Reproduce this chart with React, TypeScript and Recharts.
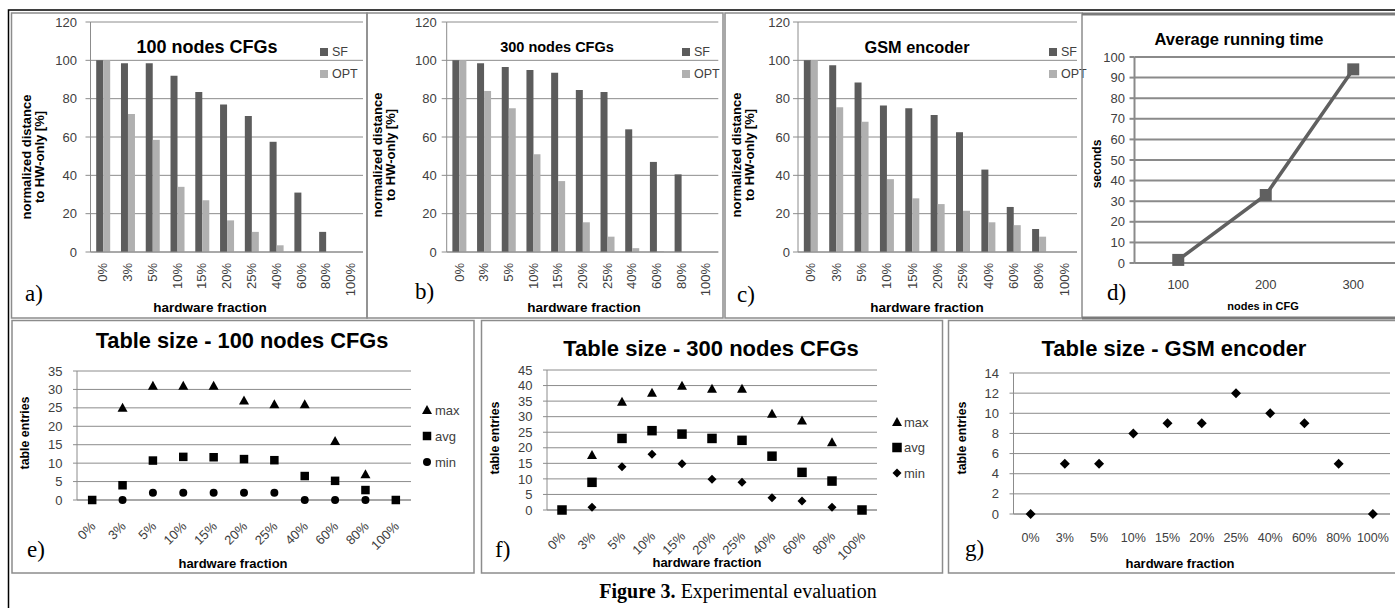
import React from 'react';
import {
  BarChart, Bar, LineChart, Line, ComposedChart, Scatter,
  XAxis, YAxis, CartesianGrid, Legend,
} from 'recharts';

const SANS = '"Liberation Sans", Arial, Helvetica, sans-serif';
const SERIF = '"Liberation Serif", "Times New Roman", Times, serif';
const TICK = '#404040';
const GRID = '#8c8c8c';
const SF_COLOR = '#5c5c5c';
const OPT_COLOR = '#b0b0b0';
const LINE_COLOR = '#606060';

// ---------- data ----------
const fractions = ['0%', '3%', '5%', '10%', '15%', '20%', '25%', '40%', '60%', '80%', '100%'];

const sf100 = [100, 98.5, 98.5, 92, 83.5, 77, 71, 57.5, 31, 10.5, 0];
const opt100 = [100, 72, 58.5, 34, 27, 16.5, 10.5, 3.5, 0, 0, 0];
const sf300 = [100, 98.5, 96.5, 95, 93.5, 84.5, 83.5, 64, 47, 40.5, 0];
const opt300 = [100, 84, 75, 51, 37, 15.5, 8, 2, 0.5, 0, 0];
const sfGsm = [100, 97.5, 88.5, 76.5, 75, 71.5, 62.5, 43, 23.5, 12, 0];
const optGsm = [100, 75.5, 68, 38, 28, 25, 21.5, 15.5, 14, 8, 0];

const cfgSizes = ['100', '200', '300'];
const runTimes = [1.5, 33, 94];

const max100 = [null, 25, 31, 31, 31, 27, 26, 26, 16, 7, null];
const avg100 = [0, 4, 10.7, 11.7, 11.6, 11.1, 10.8, 6.5, 5.2, 2.7, 0];
const min100 = [null, 0, 2, 2, 2, 2, 2, 0, 0, 0, null];

const max300 = [null, 17.7, 34.8, 37.7, 39.9, 39, 39, 30.9, 28.8, 21.8, null];
const avg300 = [0, 8.9, 23, 25.5, 24.4, 23, 22.4, 17.3, 12.1, 9.3, 0];
const min300 = [null, 0.9, 13.9, 17.9, 14.9, 9.9, 8.9, 3.9, 2.9, 0.9, null];

const tableGsm = [0, 5, 5, 8, 9, 9, 12, 10, 9, 5, 0];

const distTicks = [0, 20, 40, 60, 80, 100, 120];
const timeTicks = [0, 10, 20, 30, 40, 50, 60, 70, 80, 90, 100];
const ticks35 = [0, 5, 10, 15, 20, 25, 30, 35];
const ticks45 = [0, 5, 10, 15, 20, 25, 30, 35, 40, 45];
const ticks14 = [0, 2, 4, 6, 8, 10, 12, 14];

// ---------- helpers ----------
function Marker({ kind, cx, cy, size, color }: { kind: string; cx: number; cy: number; size: number; color: string }) {
  const s = size / 2;
  if (kind === 'triangle')
    return <path d={`M${cx},${cy - s} L${cx + s},${cy + s * 0.8} L${cx - s},${cy + s * 0.8} Z`} fill={color} />;
  if (kind === 'square') return <rect x={cx - s} y={cy - s} width={size} height={size} fill={color} />;
  if (kind === 'circle') return <circle cx={cx} cy={cy} r={s} fill={color} />;
  return <path d={`M${cx},${cy - s} L${cx + s},${cy} L${cx},${cy + s} L${cx - s},${cy} Z`} fill={color} />;
}

type LegendItem = { label: string; kind: string; color: string; size: number };

function makeLegend(items: LegendItem[], spacing: number, textDx: number, fontSize: number) {
  return () => (
    <svg width={70} height={spacing * items.length + 10} style={{ display: 'block', overflow: 'visible' }}>
      {items.map((it, i) => (
        <g key={it.label}>
          <Marker kind={it.kind} cx={6} cy={8 + i * spacing} size={it.size} color={it.color} />
          <text x={6 + textDx} y={8 + i * spacing} dominantBaseline="central" fontSize={fontSize}
            fontFamily={SANS} fill={TICK}>{it.label}</text>
        </g>
      ))}
    </svg>
  );
}

function Tick90(props: any) {
  const { x, y, payload } = props;
  return (
    <g transform={`translate(${x},${y})`}>
      <text transform="rotate(-90)" x={0} y={0} textAnchor="end" dominantBaseline="central"
        fontSize={13} fill={TICK} fontFamily={SANS}>{payload.value}</text>
    </g>
  );
}

function Tick45(props: any) {
  const { x, y, payload } = props;
  return (
    <g transform={`translate(${x + 1},${y})`}>
      <text transform="rotate(-45)" x={0} y={0} textAnchor="end" dominantBaseline="central"
        fontSize={13} fill={TICK} fontFamily={SANS}>{payload.value}</text>
    </g>
  );
}

// ---------- bar charts a, b, c ----------
type DistProps = {
  left: number; top: number; width: number; height: number;
  sf: number[]; opt: number[]; yAxisW: number; mRight: number; tickMargin: number; legendLeft: number;
};

const barLegend = makeLegend(
  [
    { label: 'SF', kind: 'square', color: SF_COLOR, size: 8 },
    { label: 'OPT', kind: 'square', color: OPT_COLOR, size: 8 },
  ], 22, 8, 12.5,
);

function DistChart({ left, top, width, height, sf, opt, yAxisW, mRight, tickMargin, legendLeft }: DistProps) {
  const data = fractions.map((f, i) => ({ f, SF: sf[i], OPT: opt[i] }));
  return (
    <div style={{ position: 'absolute', left, top }}>
      <BarChart width={width} height={height} data={data}
        margin={{ top: 10, right: mRight, bottom: 0, left: 0 }} barCategoryGap="23%" barGap={0}>
        <CartesianGrid vertical={false} stroke={GRID} />
        <XAxis dataKey="f" height={66} tickLine={false} tickSize={0} tickMargin={11} interval={0}
          tick={<Tick90 />} axisLine={{ stroke: GRID }} />
        <YAxis width={yAxisW} domain={[0, 120]} ticks={distTicks} interval={0} tickSize={5} tickMargin={tickMargin}
          tick={{ fontSize: 13, fill: TICK, fontFamily: SANS }} axisLine={{ stroke: GRID }} tickLine={{ stroke: GRID }} />
        <Bar dataKey="SF" fill={SF_COLOR} isAnimationActive={false} />
        <Bar dataKey="OPT" fill={OPT_COLOR} isAnimationActive={false} />
        <Legend layout="vertical" align="center" verticalAlign="middle" content={barLegend}
          wrapperStyle={{ left: legendLeft, top: 32, width: 70, height: 54 }} />
      </BarChart>
    </div>
  );
}

// ---------- line chart d ----------
function TimeChart() {
  const data = cfgSizes.map((n, i) => ({ n, t: runTimes[i] }));
  return (
    <div style={{ position: 'absolute', left: 1085, top: 12 }}>
      <LineChart width={312} height={306} data={data} margin={{ top: 45, right: 0, bottom: 0, left: 0 }}>
        <CartesianGrid vertical={false} stroke="#8a8a8a" strokeWidth={2} />
        <XAxis dataKey="n" scale="band" height={55} tickLine={false} tickSize={0} tickMargin={17}
          tick={{ fontSize: 13, fill: TICK, fontFamily: SANS }} axisLine={{ stroke: '#8a8a8a', strokeWidth: 2 }} />
        <YAxis width={49.5} domain={[0, 100]} ticks={timeTicks} interval={0} tickSize={5} tickMargin={4.5}
          tick={{ fontSize: 13, fill: TICK, fontFamily: SANS }} axisLine={{ stroke: '#8a8a8a', strokeWidth: 2 }}
          tickLine={{ stroke: '#8a8a8a', strokeWidth: 2 }} />
        <Line dataKey="t" stroke={LINE_COLOR} strokeWidth={3.5} isAnimationActive={false}
          dot={(p: any) => <rect key={`d${p.index}`} x={p.cx - 6} y={p.cy - 6} width={12} height={12} fill={LINE_COLOR} />}
          activeDot={false} />
      </LineChart>
    </div>
  );
}

// ---------- scatter charts e, f, g ----------
type SeriesDef = { key: string; values: (number | null)[]; kind: string; size: number };
type TableProps = {
  left: number; top: number; width: number; height: number; series: SeriesDef[];
  yMax: number; ticks: number[]; yAxisW: number; mRight: number; mTop: number; xAxisH: number;
  rotated: boolean; legend?: { left: number; top: number; spacing: number; textDx: number };
};

function TableChart({ left, top, width, height, series, yMax, ticks, yAxisW, mRight, mTop, xAxisH, rotated, legend }: TableProps) {
  const data = fractions.map((f, i) => {
    const row: any = { f };
    series.forEach((s) => { row[s.key] = s.values[i]; });
    return row;
  });
  const legendContent = legend
    ? makeLegend(series.map((s) => ({ label: s.key, kind: s.kind, color: '#000', size: s.size })), legend.spacing, legend.textDx, 13)
    : null;
  return (
    <div style={{ position: 'absolute', left, top }}>
      <ComposedChart width={width} height={height} data={data}
        margin={{ top: mTop, right: mRight, bottom: 0, left: 0 }}>
        <CartesianGrid vertical={false} stroke={GRID} />
        {rotated ? (
          <XAxis dataKey="f" scale="band" height={xAxisH} tickLine={false} tickSize={0} tickMargin={24} interval={0}
            tick={<Tick45 />} axisLine={{ stroke: GRID }} />
        ) : (
          <XAxis dataKey="f" scale="band" height={xAxisH} tickLine={false} tickSize={0} tickMargin={19.5} interval={0}
            tick={{ fontSize: 12.5, fill: TICK, fontFamily: SANS }} axisLine={{ stroke: GRID }} />
        )}
        <YAxis width={yAxisW} domain={[0, yMax]} ticks={ticks} interval={0} tickSize={4} tickMargin={10.5}
          tick={{ fontSize: 13, fill: TICK, fontFamily: SANS }} axisLine={{ stroke: GRID }} tickLine={{ stroke: GRID }} />
        {series.map((s) => (
          <Scatter key={s.key} dataKey={s.key} isAnimationActive={false} fill="#000"
            shape={(p: any) => {
              const v = p.payload ? p.payload[s.key] : null;
              if (v === null || v === undefined || !Number.isFinite(p.cy)) return <g />;
              return <Marker kind={s.kind} cx={p.cx} cy={p.cy} size={s.size} color="#000" />;
            }} />
        ))}
        {legend && legendContent && (
          <Legend layout="vertical" align="center" verticalAlign="middle" content={legendContent}
            wrapperStyle={{ left: legend.left, top: legend.top, width: 70, height: 90 }} />
        )}
      </ComposedChart>
    </div>
  );
}

// ---------- overlay (frames, titles, labels) ----------
function Overlay() {
  const bold = { fontFamily: SANS, fontWeight: 'bold' as const, fill: '#000' };
  const ylab = (x: number, y: number, txt: string, fs: number) => (
    <text transform={`translate(${x},${y}) rotate(-90)`} textAnchor="middle" dominantBaseline="central"
      fontSize={fs} {...bold}>{txt}</text>
  );
  const center = (x: number, y: number, txt: string, fs: number) => (
    <text x={x} y={y} textAnchor="middle" dominantBaseline="central" fontSize={fs} {...bold}>{txt}</text>
  );
  const letter = (x: number, y: number, txt: string) => (
    <text x={x} y={y} fontFamily={SERIF} fontSize={23} fill="#000">{txt}</text>
  );
  return (
    <svg width={1395} height={608} style={{ position: 'absolute', left: 0, top: 0, pointerEvents: 'none' }}>
      {/* frames */}
      <path d="M8.5,608 V10 H1395" stroke="#000" strokeWidth={1.5} fill="none" />
      <rect x={11.5} y={13} width={355.5} height={305} stroke={GRID} strokeWidth={1.5} fill="none" />
      <rect x={367} y={13} width={356} height={305} stroke={GRID} strokeWidth={1.5} fill="none" />
      <rect x={725} y={13} width={357} height={305} stroke={GRID} strokeWidth={1.5} fill="none" />
      <path d="M1082,14 H1395 M1082,318 H1395" stroke="#7a7a7a" strokeWidth={3} fill="none" />
      <rect x={12} y={320.5} width={462} height={252.5} stroke={GRID} strokeWidth={1.5} fill="none" />
      <rect x={481.5} y={320.5} width={461} height={252.5} stroke={GRID} strokeWidth={1.5} fill="none" />
      <rect x={948.5} y={320.5} width={460} height={252.5} stroke={GRID} strokeWidth={1.5} fill="none" />

      {/* titles */}
      {center(207, 47, '100 nodes CFGs', 18)}
      {center(557, 47, '300 nodes CFGs', 14.5)}
      {center(917, 47, 'GSM encoder', 16.3)}
      {center(1239, 39, 'Average running time', 16.5)}
      {center(242, 340, 'Table size - 100 nodes CFGs', 21.8)}
      {center(711, 348, 'Table size - 300 nodes CFGs', 22)}
      {center(1174, 348, 'Table size - GSM encoder', 22)}

      {/* y labels */}
      {ylab(26, 157, 'normalized distance', 13)}
      {ylab(39.5, 157, 'to HW-only [%]', 13)}
      {ylab(377, 155, 'normalized distance', 13)}
      {ylab(390.5, 155, 'to HW-only [%]', 13)}
      {ylab(736, 155, 'normalized distance', 13)}
      {ylab(749, 155, 'to HW-only [%]', 13)}
      {ylab(1097, 164, 'seconds', 12)}
      {ylab(25, 433, 'table entries', 12.4)}
      {ylab(495, 438, 'table entries', 12.4)}
      {ylab(962, 438, 'table entries', 12.4)}

      {/* x labels */}
      {center(210, 307, 'hardware fraction', 13.5)}
      {center(584, 307, 'hardware fraction', 13.5)}
      {center(927, 307, 'hardware fraction', 13.5)}
      {center(1263, 306, 'nodes in CFG', 11)}
      {center(233, 563, 'hardware fraction', 13)}
      {center(707, 562, 'hardware fraction', 13)}
      {center(1180, 563, 'hardware fraction', 13)}

      {/* panel letters */}
      {letter(25, 301, 'a)')}
      {letter(415, 299, 'b)')}
      {letter(737, 302, 'c)')}
      {letter(1107, 300, 'd)')}
      {letter(27, 557, 'e)')}
      {letter(495, 557, 'f)')}
      {letter(965, 556, 'g)')}

      {/* caption */}
      <text x={738} y={598} textAnchor="middle" fontFamily={SERIF} fontSize={20} fill="#000">
        <tspan fontWeight="bold">Figure 3.</tspan>{' Experimental evaluation'}
      </text>
    </svg>
  );
}

export default function App() {
  return (
    <div style={{ position: 'absolute', left: 0, top: 0, width: 1395, height: 608, overflow: 'hidden', background: '#fff' }}>
      <DistChart left={11} top={12} width={356} height={306} sf={sf100} opt={opt100}
        yAxisW={79.5} mRight={4} tickMargin={8.5} legendLeft={307} />
      <DistChart left={367} top={12} width={356} height={306} sf={sf300} opt={opt300}
        yAxisW={79.7} mRight={4.7} tickMargin={5} legendLeft={313} />
      <DistChart left={725} top={12} width={357} height={306} sf={sfGsm} opt={optGsm}
        yAxisW={73} mRight={5} tickMargin={3} legendLeft={321.5} />
      <TimeChart />
      <TableChart left={12} top={321} width={462} height={252} yMax={35} ticks={ticks35}
        yAxisW={65} mRight={63} mTop={50} xAxisH={73} rotated
        series={[
          { key: 'max', values: max100, kind: 'triangle', size: 10 },
          { key: 'avg', values: avg100, kind: 'square', size: 8.5 },
          { key: 'min', values: min100, kind: 'circle', size: 8 },
        ]}
        legend={{ left: 409, top: 81, spacing: 26, textDx: 8 }} />
      <TableChart left={482} top={321} width={460} height={252} yMax={45} ticks={ticks45}
        yAxisW={65} mRight={65} mTop={49} xAxisH={63} rotated
        series={[
          { key: 'max', values: max300, kind: 'triangle', size: 10 },
          { key: 'avg', values: avg300, kind: 'square', size: 9.5 },
          { key: 'min', values: min300, kind: 'diamond', size: 9 },
        ]}
        legend={{ left: 409, top: 93, spacing: 25.5, textDx: 7 }} />
      <TableChart left={949} top={321} width={446} height={252} yMax={14} ticks={ticks14}
        yAxisW={64.5} mRight={5} mTop={52} xAxisH={59} rotated={false}
        series={[{ key: 'entries', values: tableGsm, kind: 'diamond', size: 10 }]} />
      <Overlay />
    </div>
  );
}
